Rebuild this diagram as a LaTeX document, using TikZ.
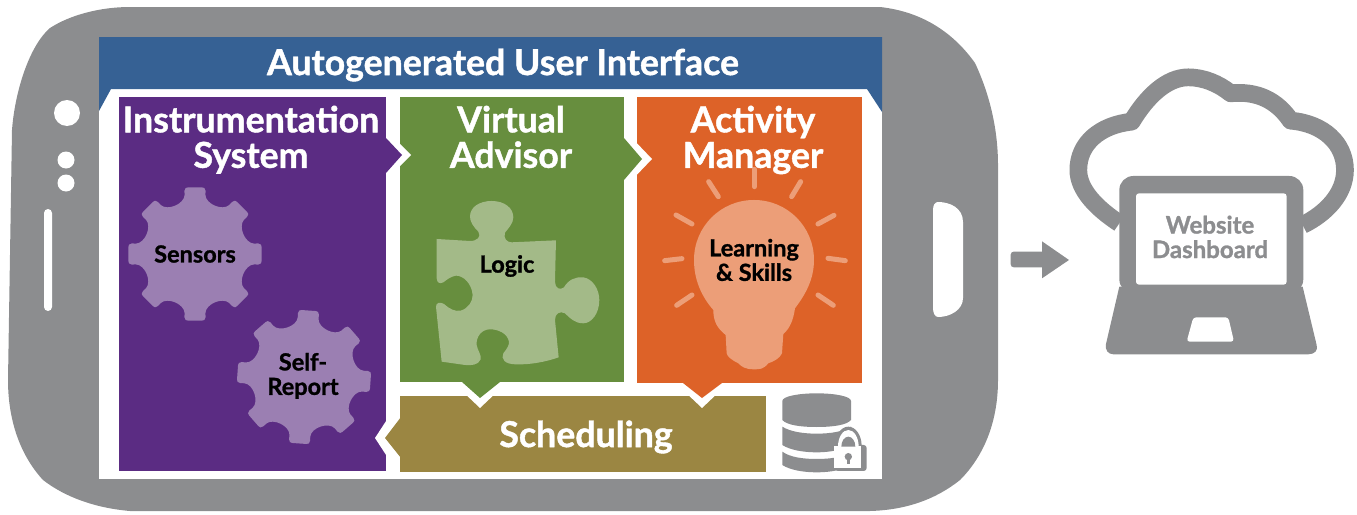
\documentclass[tikz,border=0pt]{standalone}
\usepackage{fontspec}
\setmainfont[BoldFeatures={FakeBold=1.2}]{Lato}
\definecolor{phonegray}{HTML}{8C8D8F}
\definecolor{barblue}{HTML}{366194}
\definecolor{purp}{HTML}{5B2C83}
\definecolor{purplt}{HTML}{9B7FB2}
\definecolor{grn}{HTML}{678E3E}
\definecolor{grnlt}{HTML}{A3BA88}
\definecolor{org}{HTML}{DD6228}
\definecolor{orglt}{HTML}{EC9E78}
\definecolor{brn}{HTML}{9B8642}
\newcommand{\vp}{\vphantom{Ag}}
\tikzset{
  bigtext/.style={text=white,font=\fontsize{35.7}{35.5}\selectfont\bfseries,align=center,inner sep=0pt},
  smalltext/.style={text=black,font=\fontsize{23.5}{24.5}\selectfont\bfseries,align=center,inner sep=0pt},
  webtext/.style={text=phonegray,font=\fontsize{24}{24.5}\selectfont\bfseries,align=center,inner sep=0pt},
  rayline/.style={draw=orglt,line width=5pt,line cap=round},
  gearfill/.style={fill=purplt}
}
\newcommand{\geartooth}[2]{% centre, rotation
  \fill[gearfill,shift={#1},rotate=#2]
   (-10:60)
   \foreach \a in {0,45,...,315}{
     -- ($(\a-10:60)$) -- ($(\a-9.5:64)$) .. controls ($(\a-8.5:67)$) and ($(\a-8:67)$) .. ($(\a-6:67)$)
     -- ($(\a+6:67)$) .. controls ($(\a+8:67)$) and ($(\a+8.5:67)$) .. ($(\a+9.5:64)$) -- ($(\a+10:60)$)
     .. controls ($(\a+12:51)$) and ($(\a+33:51)$) .. ($(\a+35:60)$)
   } -- cycle;
}
\usetikzlibrary{calc}
\begin{document}
\begin{tikzpicture}[x=1pt,y=-1pt]
\useasboundingbox (0,0) rectangle (1357,514);
% phone body
\fill[phonegray] (130,7) -- (880,7) .. controls (925,12) and (955,35) .. (975,63)
  .. controls (990,95) and (998,130) .. (998,165) -- (998,380)
  .. controls (998,420) and (985,455) .. (960,480) .. controls (935,500) and (905,510) .. (870,511)
  -- (130,511) .. controls (95,508) and (65,497) .. (43,480) .. controls (20,455) and (8,420) .. (8,380)
  -- (12,130) .. controls (15,90) and (30,45) .. (50,28) .. controls (70,15) and (100,7) .. (130,7) -- cycle;
\fill[white] (67,113) circle[radius=13];
\fill[white] (66,160) circle[radius=8.5];
\fill[white] (66,183) circle[radius=8.5];
\fill[white,rounded corners=4pt] (44,209) rectangle (52,311);
\fill[white] (938,202) .. controls (950,202) and (963,208) .. (963,222) -- (963,298)
  .. controls (963,310) and (950,317) .. (938,317) .. controls (935,317) and (933,313) .. (933,308)
  -- (933,210) .. controls (933,205) and (935,202) .. (938,202) -- cycle;
% screen
\fill[white] (99,37) rectangle (882,479);
\fill[barblue] (99,37) -- (882,37) -- (882,112) -- (867,89) -- (111,89) -- (99,111) -- cycle;
\node[bigtext] (title) at (503,65) {\vp Autogenerated User Interface};
% panel bodies
\fill[purp] (119,97) rectangle (386,471);
\fill[grn] (400,97) rectangle (624,382);
\fill[org] (637,97) rectangle (862,383);
\fill[brn] (400,396) rectangle (766,472);
% arrows
\fill[white] (395,139) -- (411,155) -- (395,171) -- cycle;
\fill[purp] (386,138) -- (402,155) -- (386,173) -- cycle;
\fill[white] (630,136) -- (652,159) -- (630,182) -- cycle;
\fill[grn] (624,138) -- (642,159) -- (624,180) -- cycle;
\fill[white] (461,390) -- (480,408) -- (499,390) -- cycle;
\fill[grn] (462,382) -- (480,398) -- (500,382) -- cycle;
\fill[white] (683,390) -- (702,408) -- (721,390) -- cycle;
\fill[org] (683,383) -- (702,398) -- (722,383) -- cycle;
\fill[white] (375,438) -- (390,415) -- (390,461) -- cycle;
\fill[brn] (401,417) -- (385,438) -- (401,458) -- cycle;
% gears
\geartooth{(195,254)}{0}
\geartooth{(304,377)}{-4}
% puzzle
\begin{scope}[shift={(370,80)},x=0.3333pt,y=-0.3333pt]
\fill[grnlt] (200,477) -- (300,483) .. controls (322,483) and (335,470) .. (325,455)
 .. controls (310,440) and (300,425) .. (300,410) .. controls (300,380) and (330,363) .. (365,363)
 .. controls (405,363) and (430,385) .. (430,412) .. controls (430,430) and (415,445) .. (405,458)
 .. controls (400,475) and (410,487) .. (425,487) -- (558,481) -- (555,605)
 .. controls (555,625) and (570,632) .. (582,622) .. controls (595,600) and (615,590) .. (640,592)
 .. controls (670,597) and (688,630) .. (688,660) .. controls (688,700) and (665,730) .. (640,730)
 .. controls (615,730) and (600,715) .. (585,700) .. controls (570,692) and (555,700) .. (555,720)
 -- (566,832) .. controls (530,845) and (480,855) .. (435,853) .. controls (405,852) and (392,838) .. (400,820)
 .. controls (412,805) and (418,795) .. (417,785) .. controls (412,760) and (385,748) .. (360,748)
 .. controls (335,748) and (318,770) .. (320,795) .. controls (322,810) and (335,825) .. (332,838)
 .. controls (325,855) and (305,857) .. (285,855) -- (215,845) -- (198,680)
 .. controls (198,668) and (210,665) .. (222,672) .. controls (240,688) and (255,695) .. (272,692)
 .. controls (295,685) and (308,665) .. (308,645) .. controls (305,610) and (280,587) .. (258,587)
 .. controls (240,590) and (230,600) .. (220,607) .. controls (210,612) and (201,610) .. (200,595) -- cycle;
\end{scope}
% bulb
\begin{scope}[shift={(630,90)},x=0.3333pt,y=-0.3333pt]
\fill[orglt] (250,660) .. controls (215,620) and (192,570) .. (192,510) .. controls (192,410) and (272,330) .. (372,330)
 .. controls (472,330) and (552,410) .. (552,510) .. controls (552,570) and (525,615) .. (495,655)
 .. controls (490,690) and (480,715) .. (460,732) -- (456,790) .. controls (450,805) and (430,815) .. (415,820)
 .. controls (400,838) and (390,838) .. (372,838) .. controls (345,838) and (335,830) .. (325,820)
 .. controls (305,810) and (292,800) .. (290,790) -- (287,735) .. controls (262,715) and (250,695) .. (250,660) -- cycle;
\foreach \xa/\ya/\xb/\yb in {373/238/373/290, 236/275/265/320, 138/375/186/402, 104/512/156/506, 140/646/186/615,
   612/376/564/402, 512/275/485/320, 594/505/646/512, 564/615/610/646}
  \draw[rayline] (\xa,\ya) -- (\xb,\yb);
\end{scope}
% database
\begin{scope}[shift={(770,385)},x=0.3333pt,y=-0.3333pt]
\fill[phonegray] (37,48) .. controls (37,34) and (85,25) .. (140,25) .. controls (195,25) and (243,34) .. (243,48)
  -- (243,105) .. controls (230,120) and (190,126) .. (140,126) .. controls (90,126) and (50,120) .. (37,105) -- cycle;
\fill[phonegray] (37,125) .. controls (60,140) and (100,146) .. (140,146) .. controls (180,146) and (220,140) .. (243,125)
  -- (243,175) .. controls (220,195) and (180,202) .. (140,202) .. controls (100,202) and (60,195) .. (37,180) -- cycle;
\fill[phonegray] (37,200) .. controls (60,217) and (100,222) .. (140,222) .. controls (180,222) and (220,217) .. (243,200)
  -- (243,240) .. controls (220,255) and (180,262) .. (140,262) .. controls (100,262) and (60,255) .. (37,240) -- cycle;
% lock: white halo against the cylinder, grey rim at right and below
\fill[phonegray,rounded corners=3pt] (195,180) rectangle (290,258);
\fill[phonegray] (195,183) arc[start angle=180,end angle=360,x radius=40,y radius=58] -- cycle;
\fill[white] (193,183) rectangle (272,250);
\fill[white] (204,185) arc[start angle=180,end angle=360,x radius=31,y radius=50] -- cycle;
\fill[phonegray] (214,185) arc[start angle=180,end angle=360,x radius=21,y radius=30] -- cycle;
\fill[phonegray] (235,215) circle[radius=11];
\fill[phonegray] (230,215) rectangle (240,238);
\end{scope}
% arrow + cloud + laptop
\begin{scope}[shift={(1000,70)},x=0.3333pt,y=-0.3333pt]
\fill[phonegray,rounded corners=3pt] (32,545) rectangle (135,592);
\fill[phonegray] (126,514) -- (207,570) -- (126,625) -- cycle;
\draw[phonegray,line width=17.7pt,line join=round]
  (358,460) .. controls (290,415) and (235,360) .. (235,300) .. controls (235,220) and (300,165) .. (395,155)
  .. controls (440,80) and (500,22) .. (565,22) .. controls (610,22) and (655,40) .. (692,70)
  .. controls (770,62) and (830,90) .. (872,152)
  .. controls (970,160) and (1035,220) .. (1035,300) .. controls (1035,370) and (980,430) .. (908,465);
\fill[phonegray,rounded corners=14pt] (358,318) rectangle (910,670);
\fill[white,rounded corners=3pt] (408,370) rectangle (860,644);
\fill[phonegray] (358,650) -- (318,822) .. controls (314,840) and (325,853) .. (340,853) -- (925,853)
  .. controls (945,853) and (955,840) .. (950,825) -- (908,650) -- cycle;
\fill[white,rounded corners=3pt] (580,742) -- (685,742) -- (702,815) -- (560,815) -- cycle;
\end{scope}
% texts
\node[bigtext] (instr) at (251,140) {\vp Instrumentation\\\vp System};
\node[bigtext] (advisor) at (511,140) {\vp Virtual\\\vp Advisor};
\node[bigtext] (manager) at (753,140) {\vp Activity\\\vp Manager};
\node[bigtext] (sched) at (586,437) {\vp Scheduling};
\node[smalltext] (sensors) at (195,256) {\vp Sensors};
\node[smalltext] (report) at (303,376) {\vp Self-\\\vp Report};
\node[smalltext] (logic) at (507,266) {\vp Logic};
\node[smalltext] (skills) at (754,262) {\vp Learning\\\vp\& Skills};
\node[webtext] (web) at (1210,239) {\vp Website\\\vp Dashboard};
\end{tikzpicture}
\end{document}
